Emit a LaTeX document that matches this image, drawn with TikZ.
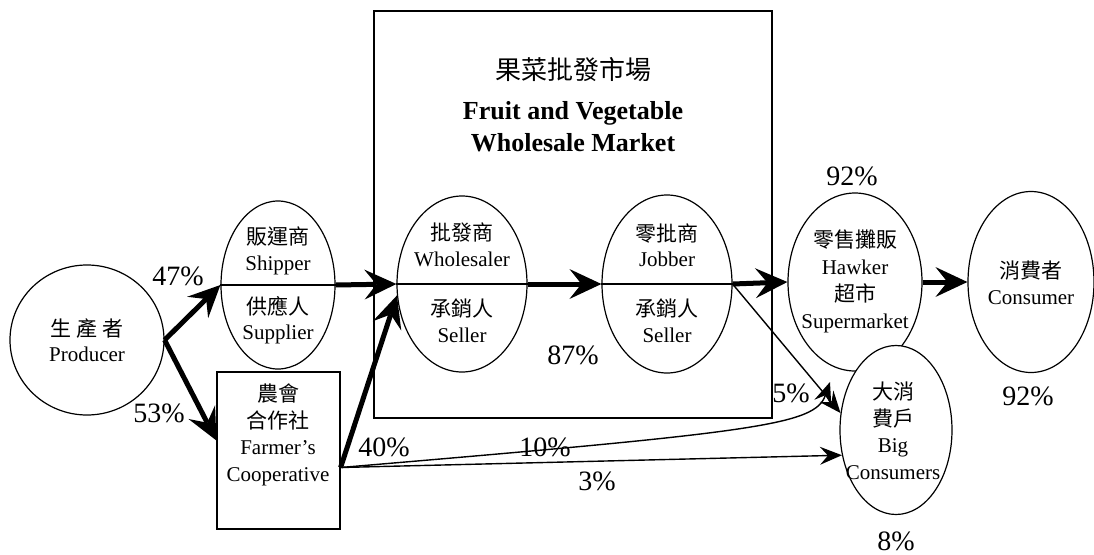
\documentclass[tikz,border=0pt]{standalone}
\usepackage{fontspec}
\setmainfont{Liberation Serif}
\newfontfamily\cjk{Noto Sans CJK TC}
\usetikzlibrary{shapes.geometric, arrows.meta, positioning, calc}
\newcommand{\zh}[1]{{\cjk #1}}

\begin{document}
\begin{tikzpicture}[x=1pt, y=-1pt,
        party/.style={ellipse, draw, line width=1.2pt, inner sep=0pt},
        frame/.style={rectangle, draw, line width=1.2pt, inner sep=0pt},
        txt/.style={align=center, inner sep=0pt, font=\fontsize{21}{25.5}\selectfont},
        pct/.style={inner sep=0pt, font=\fontsize{28}{30}\selectfont},
        flow/.style={line width=5pt, -{Stealth[length=32pt, width=30pt, inset=12pt, line width=0pt]}},
        minor/.style={line width=1.4pt, -{Stealth[length=22pt, width=18pt, inset=8pt, line width=0pt]}}
    ]
        \useasboundingbox (0,0) rectangle (1094,554);

        % Wholesale market frame and its title
        \node[frame, minimum width=398pt, minimum height=407pt] (market) at (573,214.5) {};
        \node[txt, font=\fontsize{26}{32}\selectfont] (mkzh) at (573,70) {\zh{果菜批發市場}};
        \node[txt, font=\fontsize{26}{32}\selectfont\bfseries] (mken) at (573,127) {Fruit and Vegetable\\Wholesale Market};

        % Parties along the channel
        \node[party, minimum width=154pt, minimum height=150pt] (prod) at (87,340) {};
        \node[party, minimum width=114pt, minimum height=168pt] (ship) at (278,285) {};
        \node[party, minimum width=130pt, minimum height=176pt] (whole) at (462,284) {};
        \node[party, minimum width=130pt, minimum height=178pt] (job) at (667,284) {};
        \node[party, minimum width=134pt, minimum height=178pt] (hawk) at (855,282) {};
        \node[party, minimum width=126pt, minimum height=181pt] (cons) at (1031,282) {};
        \node[party, fill=white, minimum width=112pt, minimum height=169pt] (big) at (896,430) {};
        \node[frame, minimum width=123pt, minimum height=157pt] (coop) at (278.5,450.5) {};

        % Split ovals
        \foreach \n in {ship, whole, job}
            \draw[line width=1.2pt] (\n.west) -- (\n.east);

        % Texts
        \node[txt] (prodt) at (87,340) {\zh{生 產 者}\\Producer};
        \node[txt] (shipa) at (278,251) {\zh{販運商}\\Shipper};
        \node[txt] (shipb) at (278,320) {\zh{供應人}\\Supplier};
        \node[txt] (wholea) at (462,245) {\zh{批發商}\\Wholesaler};
        \node[txt] (wholeb) at (462,321) {\zh{承銷人}\\Seller};
        \node[txt] (joba) at (667,245) {\zh{零批商}\\Jobber};
        \node[txt] (jobb) at (667,321) {\zh{承銷人}\\Seller};
        \node[txt, font=\fontsize{21}{27}\selectfont] (hawkt) at (855,281) {\zh{零售攤販}\\Hawker\\\zh{超市}\\Supermarket};
        \node[txt] (const) at (1031,283) {\zh{消費者}\\Consumer};
        \node[txt, font=\fontsize{21}{26.5}\selectfont] (bigt) at (893,431) {\zh{大消}\\\zh{費戶}\\Big\\Consumers};
        \node[txt, font=\fontsize{21}{26.5}\selectfont] (coopt) at (278,435) {\zh{農會}\\\zh{合作社}\\Farmer’s\\Cooperative};

        % Shares
        \node[pct] (p47) at (178,276) {47\%};
        \node[pct] (p53) at (159,413) {53\%};
        \node[pct] (p40) at (384,447) {40\%};
        \node[pct] (p10) at (545,447) {10\%};
        \node[pct] (p87) at (573,355) {87\%};
        \node[pct] (p5) at (791,393) {5\%};
        \node[pct] (p3) at (597,481) {3\%};
        \node[pct] (p92a) at (852,176) {92\%};
        \node[pct] (p92b) at (1028,396) {92\%};
        \node[pct] (p8) at (896,541) {8\%};

        % Flows
        \coordinate (cout) at ([yshift=-17pt]coop.east);
        \coordinate (tip10) at (830,382);
        \draw[flow] (prod.east) -- (ship.west);
        \draw[flow] (prod.east) -- ([yshift=10pt]coop.west);
        \draw[flow] (ship.east) -- (whole.west);
        \draw[flow] (cout) -- (whole.190);
        \draw[flow] (whole.east) -- (job.west);
        \draw[flow] (job.east) -- (hawk.west);
        \draw[flow] (hawk.east) -- (cons.west);
        \draw[minor] (job.east) -- (big.163);
        \draw[minor] (cout) .. controls (760,432) and (815,425) .. (tip10);
        \draw[minor] (cout) -- (big.205);
    \end{tikzpicture}
\end{document}
